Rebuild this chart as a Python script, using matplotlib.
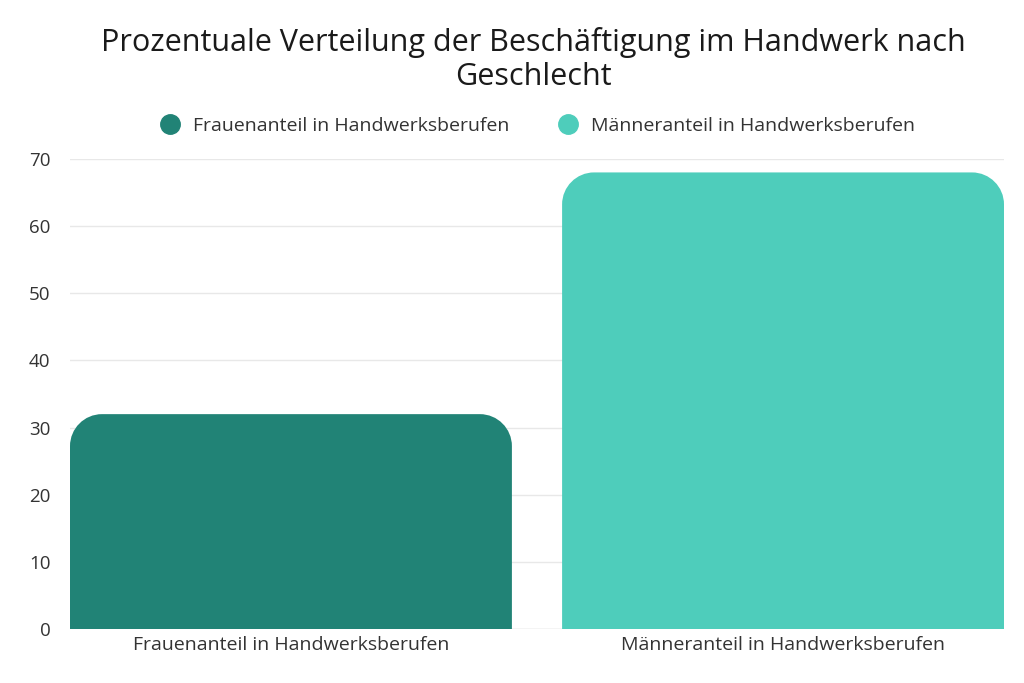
import matplotlib
matplotlib.use("Agg")
import matplotlib.pyplot as plt
from matplotlib.lines import Line2D
from matplotlib.path import Path
from matplotlib.patches import PathPatch

# data
categories = ["Frauenanteil in Handwerksberufen", "Männeranteil in Handwerksberufen"]
values = [32, 68]
colors = ["#218376", "#4ECDBB"]
title = "Prozentuale Verteilung der Beschäftigung im Handwerk nach\nGeschlecht"

plt.rcParams["font.family"] = ["Open Sans", "DejaVu Sans"]

fig = plt.figure(figsize=(10.24, 6.83), dpi=100)
ax = fig.add_axes([70 / 1024, 54 / 683, 934 / 1024, 470 / 683])

BAR_W = 0.898
bars = ax.bar(range(len(values)), values, width=BAR_W, color=colors, zorder=2)
ax.set_xlim(-BAR_W / 2, len(values) - 1 + BAR_W / 2)
ax.set_ylim(0, 70)

# rounded top corners, radius given in pixels
fig.canvas.draw()
bb = ax.get_window_extent()
x0, x1 = ax.get_xlim()
y0, y1 = ax.get_ylim()
r_px = 32
rx = r_px * (x1 - x0) / bb.width
ry = r_px * (y1 - y0) / bb.height
k = 0.5523
for b in bars:
    x, y, w, h = b.get_x(), b.get_y(), b.get_width(), b.get_height()
    top = y + h
    verts = [
        (x, y),
        (x, top - ry),
        (x, top - ry + k * ry), (x + rx - k * rx, top), (x + rx, top),
        (x + w - rx, top),
        (x + w - rx + k * rx, top), (x + w, top - ry + k * ry), (x + w, top - ry),
        (x + w, y),
        (x, y),
    ]
    codes = [Path.MOVETO, Path.LINETO,
             Path.CURVE4, Path.CURVE4, Path.CURVE4,
             Path.LINETO,
             Path.CURVE4, Path.CURVE4, Path.CURVE4,
             Path.LINETO, Path.CLOSEPOLY]
    ax.add_patch(PathPatch(Path(verts, codes), facecolor=b.get_facecolor(),
                           edgecolor="none", zorder=2))
    b.set_visible(False)

ax.set_xticks(range(len(categories)))
ax.set_xticklabels(categories, fontsize=14, color="#333333")
ax.set_yticks(range(0, 71, 10))
ax.tick_params(axis="y", labelsize=13.5, labelcolor="#333333", length=0, pad=14)
ax.tick_params(axis="x", length=0, pad=5)
ax.grid(axis="y", color="#e8e8e8", linewidth=1, zorder=0)
for s in ax.spines.values():
    s.set_visible(False)
ax.axhline(0, color="#dddddd", linewidth=1, zorder=1)

fig.suptitle(title, x=533 / 1024, y=0.96, fontsize=22, color="#1a1a1a", linespacing=1.15)

handles = [Line2D([], [], marker="o", linestyle="none", markersize=14,
                  markerfacecolor=c, markeredgecolor=c) for c in colors]
fig.legend(handles, categories, loc="center", bbox_to_anchor=(533 / 1024, 1 - 126 / 683),
           ncol=2, frameon=False, fontsize=14, handletextpad=0.2, columnspacing=2.0,
           labelcolor="#333333")

fig.savefig("out.png", dpi=100, facecolor="white")
